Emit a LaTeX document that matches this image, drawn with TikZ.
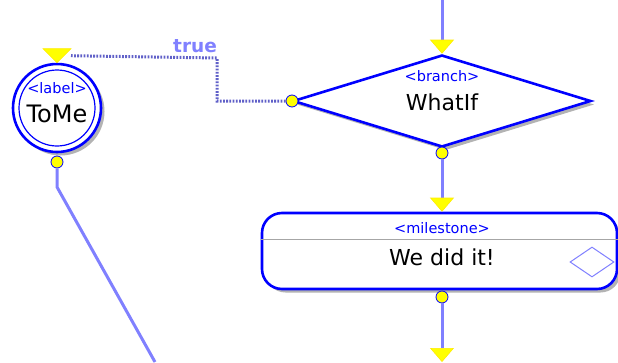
\documentclass[tikz,border=0pt]{standalone}
\usepackage{fontspec}
\setmainfont{DejaVu Sans}
\usetikzlibrary{shapes.geometric,arrows.meta,shadows}
\definecolor{outl}{RGB}{0,0,255}
\definecolor{conn}{RGB}{128,128,255}
\definecolor{dotc}{RGB}{96,96,200}
\definecolor{yel}{RGB}{255,255,0}
\begin{document}
\begin{tikzpicture}[x=1pt,y=-1pt,
  shad/.style={drop shadow={opacity=0.6,shadow xshift=3.5pt,shadow yshift=-3.5pt}},
  shapeline/.style={draw=outl,line width=2.6pt,fill=white},
  port/.style={circle,fill=yel,draw=outl,line width=0.8pt,minimum size=12pt,inner sep=0pt},
  wire/.style={draw=conn,line width=3pt},
  tri/.style={-{Triangle[length=14pt,width=24pt,fill=yel,color=yel!85!orange,line width=0.6pt]}},
  stereo/.style={text=outl,font=\fontsize{14.5}{16}\selectfont,inner sep=0pt},
  title/.style={text=black,font=\fontsize{22}{24}\selectfont,inner sep=0pt}]
\useasboundingbox (0,0) rectangle (618,362);
% label circle
\node[circle,shapeline,minimum size=88pt,inner sep=0pt,shad] (lab) at (57,108) {};
\draw[outl,line width=1.2pt] (lab.center) circle (38pt);
\node[stereo] (labst) at (57,88) {<label>};
\node[title,font=\fontsize{24}{26}\selectfont] (labti) at (57,114) {ToMe};
\node[port] (labp) at (57,162) {};
% branch diamond
\node[diamond,shapeline,minimum width=298pt,minimum height=92pt,inner sep=0pt,shad] (br) at (442,101) {};
\node[stereo] (brst) at (442,76) {<branch>};
\node[title] (brti) at (442,102) {WhatIf};
\node[port] (brp) at (442,153) {};
\node[port] (brl) at (292,101) {};
% milestone
\node[rectangle,rounded corners=20pt,shapeline,minimum width=355pt,minimum height=76pt,inner sep=0pt,shad] (ms) at (439.5,251) {};
\draw[gray!70,line width=0.8pt] ([yshift=-28pt]ms.north west) -- ([yshift=-28pt]ms.north east);
\node[stereo] (msst) at (442,228) {<milestone>};
\node[title] (msti) at (442,257) {We did it!};
\node[diamond,draw=conn,line width=1pt,minimum width=44pt,minimum height=30pt,inner sep=0pt] (msd) at (592,262) {};
\node[port] (msp) at (442,297) {};
% connectors
\coordinate (topin) at (442,0);
\coordinate (botout) at (442,362);
\draw[wire,tri] (topin) -- (br.north);
\draw[wire,tri] (brp) -- (brp |- ms.north);
\draw[wire,tri] (msp) -- (botout);
\coordinate (bend1) at (217,58);
\coordinate (bend0) at (57,187);
\coordinate (lend) at (155,362);
\draw[wire] (labp) -- (bend0) -- (lend);
\draw[dotc,line width=3pt,dash pattern=on 1.8pt off 1.4pt] (brl) -| (bend1) -- ([xshift=14pt,yshift=7pt]lab.north);
\filldraw[fill=yel,draw=yel!85!orange,line width=0.6pt] ([xshift=-14pt,yshift=14pt]lab.north) -- ([xshift=14pt,yshift=14pt]lab.north) -- (lab.north) -- cycle;
\node[text=conn,font=\fontsize{18.5}{20}\selectfont\bfseries,inner sep=0pt] (tl) at (195,46) {true};
\end{tikzpicture}
\end{document}
